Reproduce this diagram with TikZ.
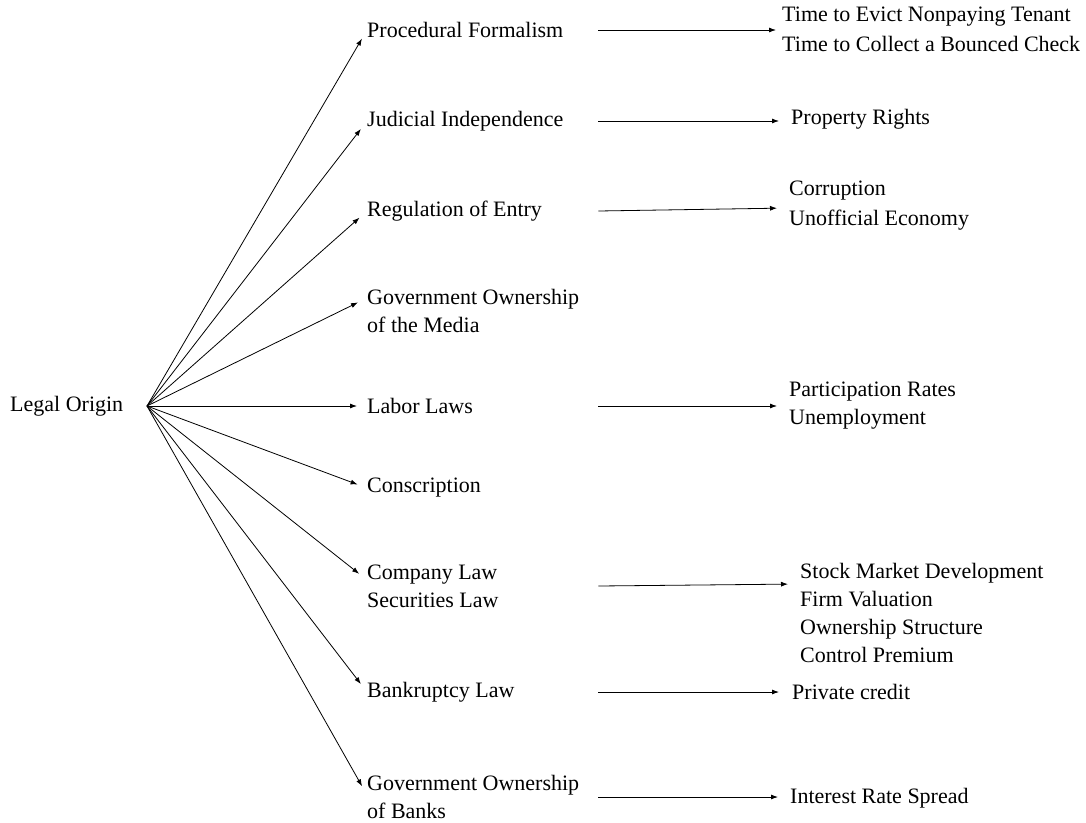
\documentclass[tikz,border=0pt]{standalone}
\usepackage{fontspec}
\setmainfont{Liberation Serif}
\usepackage{tikz}
\usetikzlibrary{positioning,arrows.meta}

\tikzset{
  link/.style={line width=0.8pt, -{Latex[length=7pt,width=5pt]}},
  cause/.style={inner sep=0pt, text width=231pt, align=flush left, anchor=west},
  outcome/.style={inner sep=0pt, align=flush left, anchor=west},
}

\begin{document}
\begin{tikzpicture}[x=1pt, y=-1pt, font=\fontsize{22}{28}\selectfont]
\useasboundingbox (0,0) rectangle (1086,822);

% Root
\node[outcome] (origin) at (10,406) {Legal Origin};
\coordinate (hub) at (147,406);

% Channels
\node[cause] (proc) at (367,30) {Procedural Formalism};
\node[cause] (judic) at (367,121) {Judicial Independence};
\node[cause] (entry) at (367,211) {Regulation of Entry};
\node[cause] (media) at (367,311) {Government Ownership\\of the Media};
\node[cause] (labor) at (367,406) {Labor Laws};
\node[cause] (consc) at (367,488) {Conscription};
\node[cause] (comp) at (367,586) {Company Law\\Securities Law};
\node[cause] (bankr) at (367,692) {Bankruptcy Law};
\node[cause] (banks) at (367,797) {Government Ownership\\of Banks};

% Outcomes
\node[outcome, font=\fontsize{22}{30}\selectfont] (evict) at (782,29) {Time to Evict Nonpaying Tenant\\Time to Collect a Bounced Check};
\node[outcome] (prop) at (791,119) {Property Rights};
\node[outcome, font=\fontsize{22}{30}\selectfont] (corr) at (789,206) {Corruption\\Unofficial Economy};
\node[outcome] (partic) at (789,406) {Participation Rates\\Unemployment};
\node[outcome] (stock) at (800,613) {Stock Market Development\\Firm Valuation\\Ownership Structure\\Control Premium};
\node[outcome] (credit) at (792,692) {Private credit};
\node[outcome] (spread) at (790,798) {Interest Rate Spread};

% Origin to channels
\foreach \n in {proc,judic,entry,labor,consc,bankr}
  \draw[link, shorten >=10pt] (hub) -- (\n.west);
\draw[link, shorten >=10pt] (hub) -- ([yshift=13pt]media.west);
\draw[link, shorten >=10pt] (hub) -- ([yshift=6pt]comp.west);
\draw[link, shorten >=10pt] (hub) -- ([yshift=2pt]banks.west);

% Channels to outcomes
\draw[link, shorten >=6pt] (proc.east) -- (proc.east -| evict.west);
\draw[link, shorten >=12pt] (judic.east) -- (judic.east -| prop.west);
\draw[link, shorten >=12pt] (entry.east) -- ([yshift=-2pt]corr.west);
\draw[link, shorten >=12pt] (labor.east) -- (partic.west);
\draw[link, shorten >=12pt] (comp.east) -- ([yshift=29pt]stock.west);
\draw[link, shorten >=13pt] (bankr.east) -- (credit.west);
\draw[link, shorten >=12pt] (banks.east) -- (banks.east -| spread.west);
\end{tikzpicture}
\end{document}
